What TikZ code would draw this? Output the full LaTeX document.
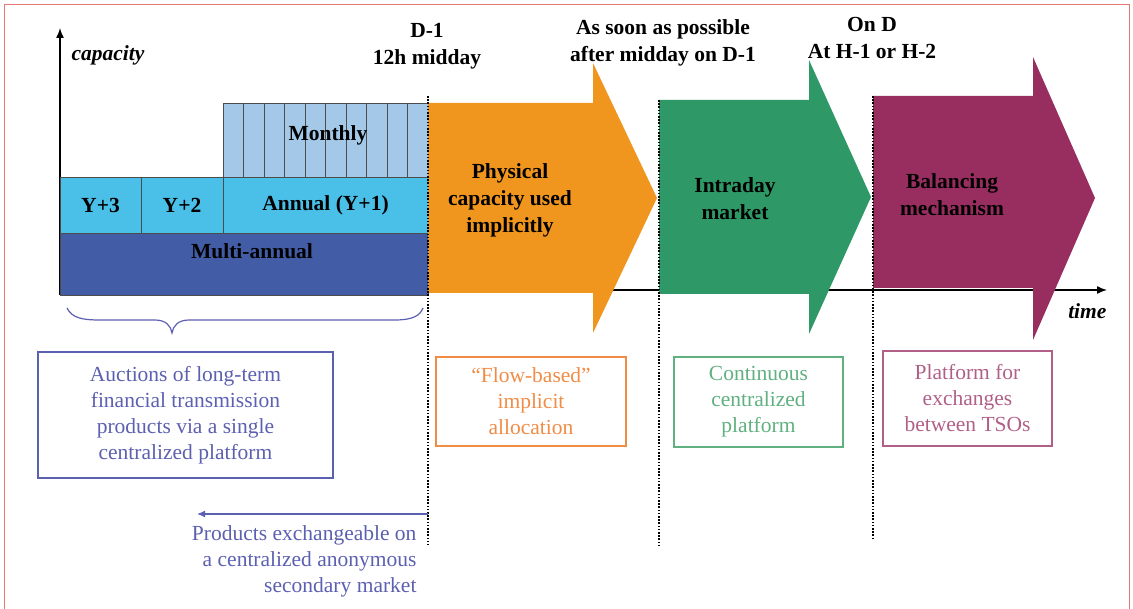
\documentclass[tikz,border=0pt]{standalone}
\usepackage{fontspec}
\setmainfont{Liberation Serif}
\usetikzlibrary{arrows.meta}
\definecolor{frame}{RGB}{232,120,120}
\definecolor{multi}{RGB}{66,92,166}
\definecolor{yearc}{RGB}{74,191,232}
\definecolor{monthc}{RGB}{163,200,232}
\definecolor{orangec}{RGB}{240,150,30}
\definecolor{greenc}{RGB}{46,153,102}
\definecolor{purplec}{RGB}{152,46,96}
\definecolor{auctc}{RGB}{92,96,176}
\definecolor{flowc}{RGB}{240,140,70}
\definecolor{contc}{RGB}{96,176,128}
\definecolor{platc}{RGB}{176,96,136}
\tikzset{
  blk/.style={draw=black!70, line width=0.8pt, inner sep=0pt, outer sep=0pt, anchor=north west},
  blktxt/.style={font=\bfseries\fontsize{21.5}{24}\selectfont},
  hdr/.style={align=center, font=\bfseries\fontsize{21.5}{27}\selectfont},
  inarr/.style={align=center, font=\bfseries\fontsize{21.5}{27}\selectfont},
  infobox/.style={draw, line width=1.1pt, align=center, inner sep=0pt, outer sep=0pt, font=\fontsize{21.5}{26}\selectfont},
  dotline/.style={line width=2.6pt, dash pattern=on 1.6pt off 1.6pt},
  axislbl/.style={font=\bfseries\itshape\fontsize{21.5}{24}\selectfont}
}
\begin{document}
\begin{tikzpicture}[x=1pt,y=-1pt]
\useasboundingbox (0,0) rectangle (1133,609);
% frame
\draw[frame, line width=1pt] (4,609) -- (4,5) -- (1129,5) -- (1129,609);
% time axis
\coordinate (t0) at (60,290);
\coordinate (t1) at (1107,290);
\draw[line width=1.4pt, -{Latex[length=10pt,width=8pt]}] (t0) -- (t1);
% capacity axis
\coordinate (c0) at (60,295);
\coordinate (c1) at (60,28);
\draw[line width=1.4pt, -{Latex[length=10pt,width=8pt]}] (c0) -- (c1);
\node[axislbl, anchor=west] (cap) at (68,55) {capacity};
\node[axislbl, anchor=east] (time) at (1110,311) {time};
% blocks
\node[blk, fill=multi, minimum width=368pt, minimum height=62pt] (multi) at (60,233) {};
\node[blktxt] at (252,251) {Multi-annual};
\node[blk, fill=yearc, minimum width=81pt, minimum height=56pt] (y3) at (60,177) {};
\node[blktxt] at (y3.center) {Y+3};
\node[blk, fill=yearc, minimum width=82pt, minimum height=56pt] (y2) at (141,177) {};
\node[blktxt] at (y2.center) {Y+2};
\node[blk, fill=yearc, minimum width=205pt, minimum height=56pt] (annual) at (223,177) {};
\node[blktxt] at (annual.center) {Annual (Y+1)};
\node[blk, fill=monthc, minimum width=205pt, minimum height=74pt] (monthly) at (223,103) {};
\foreach \i in {1,...,9} {
  \draw[black!70, line width=0.8pt] (223+\i*20.5,103) -- (223+\i*20.5,177);
}
\node[blktxt] at (328,135) {Monthly};
% brace
\draw[auctc, line width=1.2pt] (67,308) .. controls (72,318) and (82,320) .. (100,320) -- (155,320) .. controls (166,320) and (171,326) .. (172,333) .. controls (173,326) and (178,320) .. (189,320) -- (395,320) .. controls (412,320) and (420,316) .. (423,308);
% big arrows
\fill[orangec] (428,103) -- (593,103) -- (593,63) -- (657,198) -- (593,333) -- (593,293) -- (428,293) -- cycle;
\fill[greenc] (659,100) -- (809,100) -- (809,60) -- (871,197) -- (809,334) -- (809,294) -- (659,294) -- cycle;
\fill[purplec] (873,96) -- (1033,96) -- (1033,57) -- (1095,198) -- (1033,340) -- (1033,288) -- (873,288) -- cycle;
% dotted lines
\coordinate (d1a) at (428,96); \coordinate (d1b) at (428,545);
\coordinate (d2a) at (659,100); \coordinate (d2b) at (659,545);
\coordinate (d3a) at (873,96); \coordinate (d3b) at (873,540);
\draw[dotline] (d1a) -- (d1b);
\draw[dotline] (d2a) -- (d2b);
\draw[dotline] (d3a) -- (d3b);
% headers
\node[hdr] (h1) at (427,46) {D-1\\12h midday};
\node[hdr] (h2) at (663,43) {As soon as possible\\after midday on D-1};
\node[hdr] (h3) at (872,38) {On D\\At H-1 or H-2};
% arrow texts
\node[inarr] (p1) at (510,200) {Physical\\capacity used\\implicitly};
\node[inarr] (p2) at (735,199) {Intraday\\market};
\node[inarr] (p3) at (952,195) {Balancing\\mechanism};
% info boxes
\node[infobox, auctc, text=auctc, minimum width=295pt, minimum height=126pt, anchor=north west] (b1) at (38,352) {Auctions of long-term\\financial transmission\\products via a single\\centralized platform};
\node[infobox, flowc, text=flowc, minimum width=190pt, minimum height=89pt, anchor=north west] (b2) at (436,357) {``Flow-based''\\implicit\\allocation};
\node[infobox, contc, text=contc, minimum width=169pt, minimum height=90pt, anchor=north west] (b3) at (674,357) {Continuous\\centralized\\platform};
\node[infobox, platc, text=platc, minimum width=169pt, minimum height=95pt, anchor=north west] (b4) at (883,351) {Platform for\\exchanges\\between TSOs};
% products arrow
\coordinate (pe) at (197,514);
\draw[auctc, line width=1.3pt, -{Latex[length=8pt,width=7pt]}] (d1b |- pe) -- (pe);
\node[align=right, anchor=north east, text=auctc, font=\fontsize{21.5}{26}\selectfont] (prod) at (420,522) {Products exchangeable on\\a centralized anonymous\\secondary market};
\end{tikzpicture}
\end{document}
